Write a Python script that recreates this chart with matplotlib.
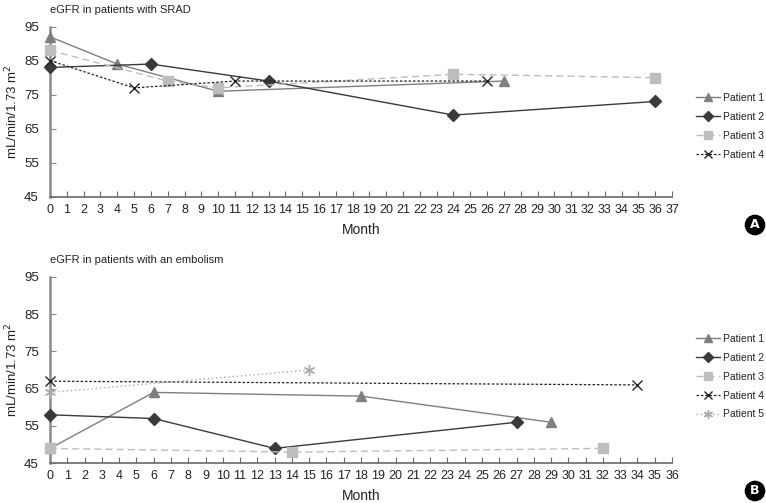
import matplotlib
matplotlib.use("Agg")
import matplotlib.pyplot as plt

plt.rcParams['font.family'] = ['Liberation Sans', 'DejaVu Sans']

# panel A: SRAD
a_p1_x = [0, 4, 10, 27]
a_p1_y = [92, 84, 76, 79]
a_p2_x = [0, 6, 13, 24, 36]
a_p2_y = [83, 84, 79, 69, 73]
a_p3_x = [0, 7, 10, 24, 36]
a_p3_y = [88, 79, 77, 81, 80]
a_p4_x = [0, 5, 11, 26]
a_p4_y = [85, 77, 79, 79]

# panel B: embolism
b_p1_x = [0, 6, 18, 29]
b_p1_y = [49, 64, 63, 56]
b_p2_x = [0, 6, 13, 27]
b_p2_y = [58, 57, 49, 56]
b_p3_x = [0, 14, 32]
b_p3_y = [49, 48, 49]
b_p4_x = [0, 34]
b_p4_y = [67, 66]
b_p5_x = [0, 15]
b_p5_y = [64, 70]

yticks = [45, 55, 65, 75, 85, 95]

styles = [
    dict(color='#7f7f7f', ls='-', marker='^', ms=7, lw=1.0),
    dict(color='#3a3a3a', ls='-', marker='D', ms=6, lw=1.0),
    dict(color='#bdbdbd', ls=(0, (5, 3)), marker='s', ms=7, lw=1.0),
    dict(color='#222222', ls=(0, (2, 1.5)), marker='x', ms=7, lw=0.9, mew=1.0),
    dict(color='#aaaaaa', ls=(0, (1, 2)), marker=(6, 2, 0), ms=8, lw=1.0, mew=1.0),
]

fig = plt.figure(figsize=(7.66, 5.03), dpi=100)
axA = fig.add_axes([0.0653, 0.609, 0.812, 0.338])
axB = fig.add_axes([0.0653, 0.0789, 0.812, 0.371])


def style_axes(ax, xmax, title, legend_y):
    ax.set_xlim(0, xmax)
    ax.set_ylim(45, 95)
    ax.set_xticks(range(0, xmax + 1))
    ax.set_yticks(yticks)
    for s in ['top', 'right']:
        ax.spines[s].set_visible(False)
    ax.spines['left'].set_color('#8a8a8a')
    ax.spines['left'].set_linewidth(1.8)
    ax.spines['bottom'].set_color('#6a6a6a')
    ax.spines['bottom'].set_linewidth(1.2)
    ax.tick_params(axis='x', direction='in', length=4, color='#6a6a6a', labelsize=9, pad=5, labelcolor='#222222')
    ax.tick_params(axis='y', direction='in', length=4, color='#8a8a8a', labelsize=9.5, pad=8, labelcolor='#222222')
    ax.set_xlabel('Month', fontsize=10, color='#222222', labelpad=5)
    ax.set_ylabel('mL/min/1.73 m$^2$', fontsize=9.5, color='#222222', labelpad=3)
    ax.set_title(title, loc='left', fontsize=8, color='#222222', pad=10)
    leg = ax.legend(loc='upper left', bbox_to_anchor=(0.909, legend_y), bbox_transform=fig.transFigure,
                    frameon=False, fontsize=7.5, handlelength=2.3, labelspacing=0.85, handletextpad=0.3,
                    borderpad=0, borderaxespad=0, markerscale=0.8)
    for t in leg.get_texts():
        t.set_color('#222222')


seriesA = [(a_p1_x, a_p1_y), (a_p2_x, a_p2_y), (a_p3_x, a_p3_y), (a_p4_x, a_p4_y)]
seriesB = [(b_p1_x, b_p1_y), (b_p2_x, b_p2_y), (b_p3_x, b_p3_y), (b_p4_x, b_p4_y), (b_p5_x, b_p5_y)]

for i, (x, y) in enumerate(seriesA):
    axA.plot(x, y, label='Patient %d' % (i + 1), clip_on=False, zorder=3, **styles[i])
for i, (x, y) in enumerate(seriesB):
    axB.plot(x, y, label='Patient %d' % (i + 1), clip_on=False, zorder=3, **styles[i])

style_axes(axA, 37, 'eGFR in patients with SRAD', 1 - 93 / 503)
style_axes(axB, 36, 'eGFR in patients with an embolism', 1 - 334 / 503)

for letter, yy in [('A', 225), ('B', 491)]:
    fig.text(755 / 766, 1 - yy / 503, letter, ha='center', va='center', fontsize=9, fontweight='bold',
             color='white', family=['DejaVu Sans'],
             bbox=dict(boxstyle='circle,pad=0.25', fc='black', ec='black'))

fig.savefig('out.png', dpi=100)
